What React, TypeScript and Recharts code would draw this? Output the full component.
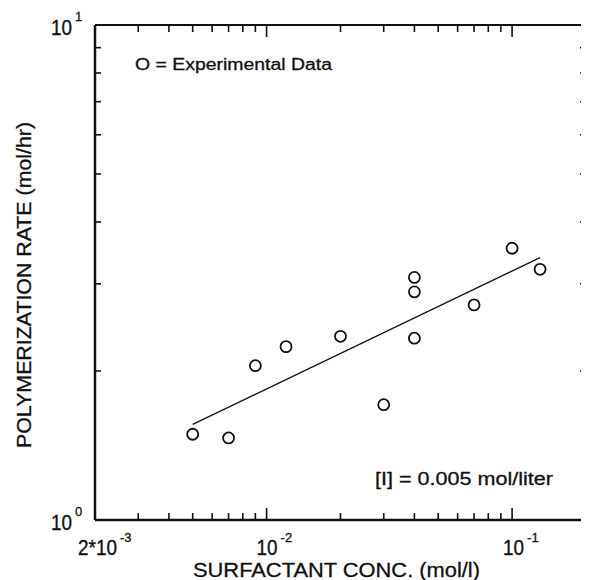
import { ScatterChart, Scatter, XAxis, YAxis } from "recharts";

// surfactant concentration (mol/l) and polymerization rate (mol/hr)
const surfactant = [0.005, 0.007, 0.009, 0.012, 0.02, 0.03, 0.04, 0.04, 0.04, 0.07, 0.1, 0.13];
const rate = [1.49, 1.465, 2.05, 2.24, 2.35, 1.71, 2.33, 2.89, 3.09, 2.72, 3.54, 3.21];

// fitted line end points
const fitX = [0.005, 0.13];
const fitY = [1.56, 3.39];

const xTicks = [
  0.002, 0.003, 0.004, 0.005, 0.006, 0.007, 0.008, 0.009, 0.01,
  0.02, 0.03, 0.04, 0.05, 0.06, 0.07, 0.08, 0.09, 0.1, 0.2,
];
const yTicks = [1, 2, 3, 4, 5, 6, 7, 8, 9, 10];

const xLabels: Record<string, [string, string]> = {
  "0.002": ["2*10", "-3"],
  "0.01": ["10", "-2"],
  "0.1": ["10", "-1"],
};
const yLabels: Record<string, [string, string]> = {
  "1": ["10", "0"],
  "10": ["10", "1"],
};

const points = surfactant.map((x, i) => ({ x, y: rate[i] }));
const fit = fitX.map((x, i) => ({ x, y: fitY[i] }));

const FONT = "'Liberation Sans', Arial, sans-serif";
const INK = "#111111";

// plot frame in svg coordinates (follows the chart margins below)
const W = 581;
const H = 572;
const M = { top: 17, right: 3, bottom: 59, left: 86 };
const PL = M.left + 1;
const PR = W - M.right;
const PT = M.top;
const PB = H - M.bottom - 1;

const X_DOM = [0.002, 0.2];

const isDecade = (v: number) => {
  const l = Math.log10(v);
  return Math.abs(l - Math.round(l)) < 1e-9;
};
const isEdge = (v: number, lo: number, hi: number) =>
  Math.abs(v - lo) < 1e-12 || Math.abs(v - hi) < 1e-12;

// same log mapping the x axis uses, for the mirrored ticks along the top edge
const topX = (v: number) =>
  PL + ((Math.log10(v) - Math.log10(X_DOM[0])) / (Math.log10(X_DOM[1]) - Math.log10(X_DOM[0]))) * (PR - PL);

// bottom axis tick: inward tick plus label
const XTick = (props: any) => {
  const { x, payload } = props;
  const v = payload.value;
  const len = isDecade(v) ? 12 : 7;
  const lab = xLabels[String(v)];
  const off = v === 0.002 ? 22 : v === 0.01 ? 11 : 12;
  const w = lab && lab[0].length > 2 ? 39 : 21;
  const edge = isEdge(v, X_DOM[0], X_DOM[1]);
  return (
    <g>
      {!edge && <line x1={x} x2={x} y1={PB} y2={PB - len} stroke={INK} strokeWidth={1.6} />}
      {lab && (
        <text x={x + off - w} y={PB + 35} fontFamily={FONT} fontSize={22} fill={INK} stroke={INK} strokeWidth={0.35}
          textLength={w} lengthAdjust="spacingAndGlyphs">{lab[0]}</text>
      )}
      {lab && (
        <text x={x + off + 3} y={PB + 22} fontFamily={FONT} fontSize={13} fill={INK} stroke={INK} strokeWidth={0.3}>
          {lab[1]}
        </text>
      )}
    </g>
  );
};

// left axis tick: inward ticks on the left and right edges, plus label
const YTick = (props: any) => {
  const { y, payload } = props;
  const v = payload.value;
  const lab = yLabels[String(v)];
  const edge = isEdge(v, 1, 10);
  return (
    <g>
      {!edge && <line x1={PL} x2={PL + 6} y1={y} y2={y} stroke={INK} strokeWidth={1.6} />}
      {!edge && <line x1={PR} x2={PR - 6} y1={y} y2={y} stroke={INK} strokeWidth={1.6} />}
      {lab && (
        <text x={PL - 44} y={y + 10} fontFamily={FONT} fontSize={22} fill={INK} stroke={INK} strokeWidth={0.35}
          textLength={21} lengthAdjust="spacingAndGlyphs">{lab[0]}</text>
      )}
      {lab && (
        <text x={PL - 20} y={y - 4} fontFamily={FONT} fontSize={13} fill={INK} stroke={INK} strokeWidth={0.3}>
          {lab[1]}
        </text>
      )}
    </g>
  );
};

const Ring = (props: any) => (
  <circle cx={props.cx} cy={props.cy} r={5.5} fill="none" stroke={INK} strokeWidth={1.8} />
);

const Nothing = () => <g />;

export default function App() {
  return (
    <ScatterChart width={W} height={H} margin={M}>
      <XAxis
        dataKey="x"
        type="number"
        scale="log"
        domain={X_DOM}
        ticks={xTicks}
        interval={0}
        height={1}
        tickSize={0}
        tickMargin={0}
        tickLine={false}
        tick={XTick}
        axisLine={{ stroke: INK, strokeWidth: 2.5 }}
      />
      <YAxis
        dataKey="y"
        type="number"
        scale="log"
        domain={[1, 10]}
        ticks={yTicks}
        interval={0}
        width={1}
        tickSize={0}
        tickMargin={0}
        tickLine={false}
        tick={YTick}
        axisLine={{ stroke: INK, strokeWidth: 2.5 }}
      />
      <Scatter
        data={fit}
        line={{ stroke: INK, strokeWidth: 1.4 }}
        shape={Nothing}
        isAnimationActive={false}
        legendType="none"
      />
      <Scatter data={points} shape={<Ring />} isAnimationActive={false} />

      {/* top and right edges of the frame, with the mirrored top ticks */}
      <g stroke={INK} fill="none">
        <line x1={PL} x2={PR + 1} y1={PT} y2={PT} strokeWidth={2} />
        <line x1={PR} x2={PR} y1={PT} y2={PB + 1} strokeWidth={2} />
        {xTicks
          .filter((v) => !isEdge(v, X_DOM[0], X_DOM[1]))
          .map((v) => (
            <line key={v} x1={topX(v)} x2={topX(v)} y1={PT} y2={PT + (isDecade(v) ? 12 : 7)} strokeWidth={1.6} />
          ))}
      </g>

      <g fontFamily={FONT} fill={INK} stroke={INK} strokeWidth={0.3}>
        <text x={127} y={62} fontSize={16} textLength={197} lengthAdjust="spacingAndGlyphs">
          O = Experimental Data
        </text>
        <text x={367} y={477} fontSize={18} textLength={178} lengthAdjust="spacingAndGlyphs">
          [I] = 0.005 mol/liter
        </text>
        <text x={185} y={569} fontSize={21} textLength={287} lengthAdjust="spacingAndGlyphs">
          SURFACTANT CONC. (mol/l)
        </text>
        <text
          x={0}
          y={0}
          transform="translate(23,277) rotate(-90)"
          textAnchor="middle"
          fontSize={21}
          textLength={326}
          lengthAdjust="spacingAndGlyphs"
        >
          POLYMERIZATION RATE (mol/hr)
        </text>
      </g>
    </ScatterChart>
  );
}
